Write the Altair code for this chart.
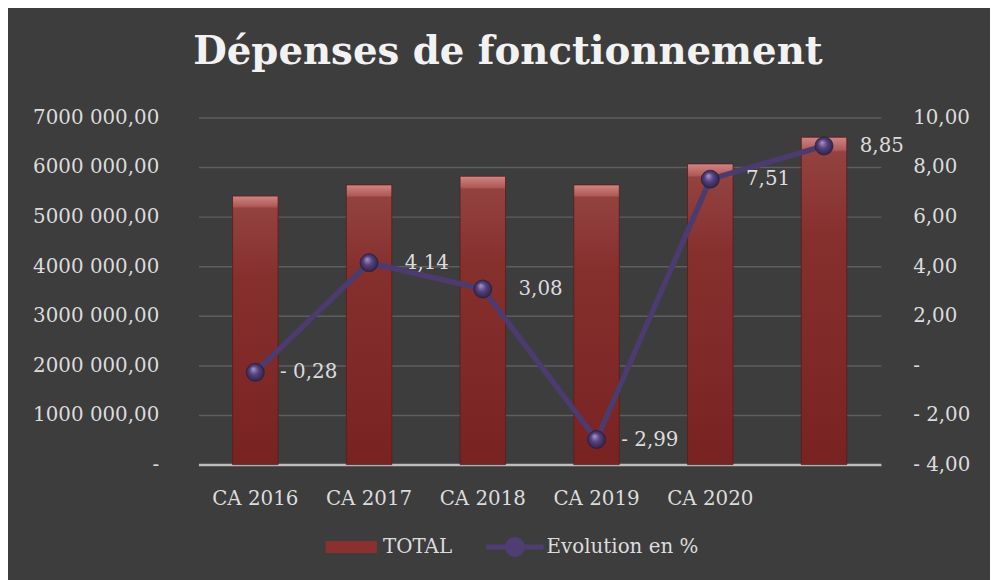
import altair as alt
import pandas as pd

# ---- data ----
categories = ["CA 2016", "CA 2017", "CA 2018", "CA 2019", "CA 2020", ""]
total = [5415000, 5640000, 5814000, 5640000, 6063000, 6600000]
evolution = [-0.28, 4.14, 3.08, -2.99, 7.51, 8.85]
series_names = ["TOTAL", "Evolution en %"]
left_ticks = [0, 1000000, 2000000, 3000000, 4000000, 5000000, 6000000, 7000000]
right_ticks = [-4, -2, 0, 2, 4, 6, 8, 10]

df = pd.DataFrame({
    "cat": categories,
    "total": total,
    "evol": evolution,
    "series": ["Evolution en %"] * len(categories),
})

FONT = "DejaVu Serif"
TXT = "#dcdcdc"
RED = "#8a302e"
PURPLE = "#4f3e74"
FS = 20

bar_gradient = {
    "gradient": "linear", "x1": 0, "y1": 0, "x2": 0, "y2": 1,
    "stops": [
        {"offset": 0.0, "color": "#d08684"},
        {"offset": 0.038, "color": "#b05a57"},
        {"offset": 0.045, "color": "#934240"},
        {"offset": 0.3, "color": "#86302e"},
        {"offset": 1.0, "color": "#782222"},
    ],
}
sphere_gradient = {
    "gradient": "radial", "x1": 0.38, "y1": 0.3, "r1": 0.0,
    "x2": 0.5, "y2": 0.5, "r2": 0.55,
    "stops": [
        {"offset": 0.0, "color": "#a998cf"},
        {"offset": 0.45, "color": "#56427e"},
        {"offset": 1.0, "color": "#2a1f40"},
    ],
}

x_enc = alt.X(
    "cat:N", sort=categories,
    scale=alt.Scale(paddingInner=0.6, paddingOuter=0.3),
    axis=alt.Axis(title=None, labelAngle=0, ticks=False, domain=True,
                  domainColor="#bdbdbd", domainWidth=2.5,
                  labelFont=FONT, labelFontSize=FS, labelColor=TXT,
                  labelPadding=24),
)

left_label = ("datum.value == 0 ? '-' : floor(datum.value / 1000000) + '000 ' + "
              "'000,00'")
right_label = ("datum.value == 0 ? '-' : (datum.value < 0 ? '- ' : '') + "
               "replace(format(abs(datum.value), '.2f'), '.', ',')")

bars = alt.Chart(df).mark_bar(fill=bar_gradient, stroke="#5e1a1a", strokeWidth=0.8).encode(
    x=x_enc,
    y=alt.Y("total:Q", scale=alt.Scale(domain=[0, 7000000], nice=False),
            axis=alt.Axis(orient="left", title=None, values=left_ticks,
                          labelExpr=left_label, grid=True, gridColor="#5e5e5e",
                          gridWidth=1.5, domain=False, ticks=False,
                          labelFont=FONT, labelFontSize=FS, labelColor=TXT,
                          labelPadding=40)),
)

y_right = alt.Y("evol:Q", scale=alt.Scale(domain=[-4, 10], nice=False),
                axis=alt.Axis(orient="right", title=None, values=right_ticks,
                              labelExpr=right_label, grid=False, domain=False,
                              ticks=False, labelFont=FONT, labelFontSize=FS,
                              labelColor=TXT, labelPadding=32))
x_plain = alt.X("cat:N", sort=categories)

line = alt.Chart(df).mark_line(color="#4b3b6e", strokeWidth=5.5).encode(
    x=x_plain, y=y_right)

shape_range = [
    "M-2.6,-0.6H2.6V0.6H-2.6Z",
    "M-2.9,-0.25H-1V0.25H-2.9Z M1,-0.25H2.9V0.25H1Z M-1,0A1,1 0 1,0 1,0A1,1 0 1,0 -1,0Z",
]

# carries the legend (tiny marks hidden under the spheres)
points = alt.Chart(df).mark_point(filled=True, size=1, opacity=1).encode(
    x=x_plain,
    y=y_right,
    color=alt.Color("series:N",
                    scale=alt.Scale(domain=series_names, range=[RED, PURPLE]),
                    legend=alt.Legend(title=None, orient="none", direction="horizontal",
                                      legendX=144, legendY=423,
                                      symbolSize=400, symbolStrokeWidth=0,
                                      labelFont=FONT, labelFontSize=FS, labelColor=TXT,
                                      labelOffset=22, columnPadding=34, padding=0)),
    shape=alt.Shape("series:N",
                    scale=alt.Scale(domain=series_names, range=shape_range),
                    legend=None),
)

spheres = alt.Chart(df).mark_point(filled=True, size=330, opacity=1,
                                   fill=sphere_gradient, shape="circle",
                                   stroke="#2a1f40", strokeWidth=0.8).encode(
    x=x_plain, y=y_right)

label_calc = ("(datum.evol < 0 ? '- ' : '') + "
              "replace(format(abs(datum.evol), '.2f'), '.', ',')")

labels_neg = alt.Chart(df).transform_filter("datum.evol < 0").transform_calculate(
    txt=label_calc
).mark_text(align="left", baseline="middle", dx=25, font=FONT, fontSize=FS,
            color=TXT).encode(x=x_plain, y=y_right, text="txt:N")

labels_pos = alt.Chart(df).transform_filter("datum.evol >= 0").transform_calculate(
    txt=label_calc
).mark_text(align="left", baseline="middle", dx=36, font=FONT, fontSize=FS,
            color=TXT).encode(x=x_plain, y=y_right, text="txt:N")

right = alt.layer(line, points, spheres, labels_neg, labels_pos)

chart = alt.layer(bars, right).resolve_scale(y="independent").properties(
    width=688, height=350,
    padding={"left": 192, "top": 108, "right": 110, "bottom": 114},
    autosize=alt.AutoSizeParams(type="none"),
    background="#3d3d3d",
    title=alt.TitleParams(
        "Dépenses de fonctionnement", font=FONT, fontSize=39, fontWeight="bold",
        color="#f2f2f2", anchor="middle", dx=-32, offset=5, baseline="alphabetic"),
).configure_view(stroke=None)

chart.save("out.html", embed_options={"renderer": "svg", "actions": False})
